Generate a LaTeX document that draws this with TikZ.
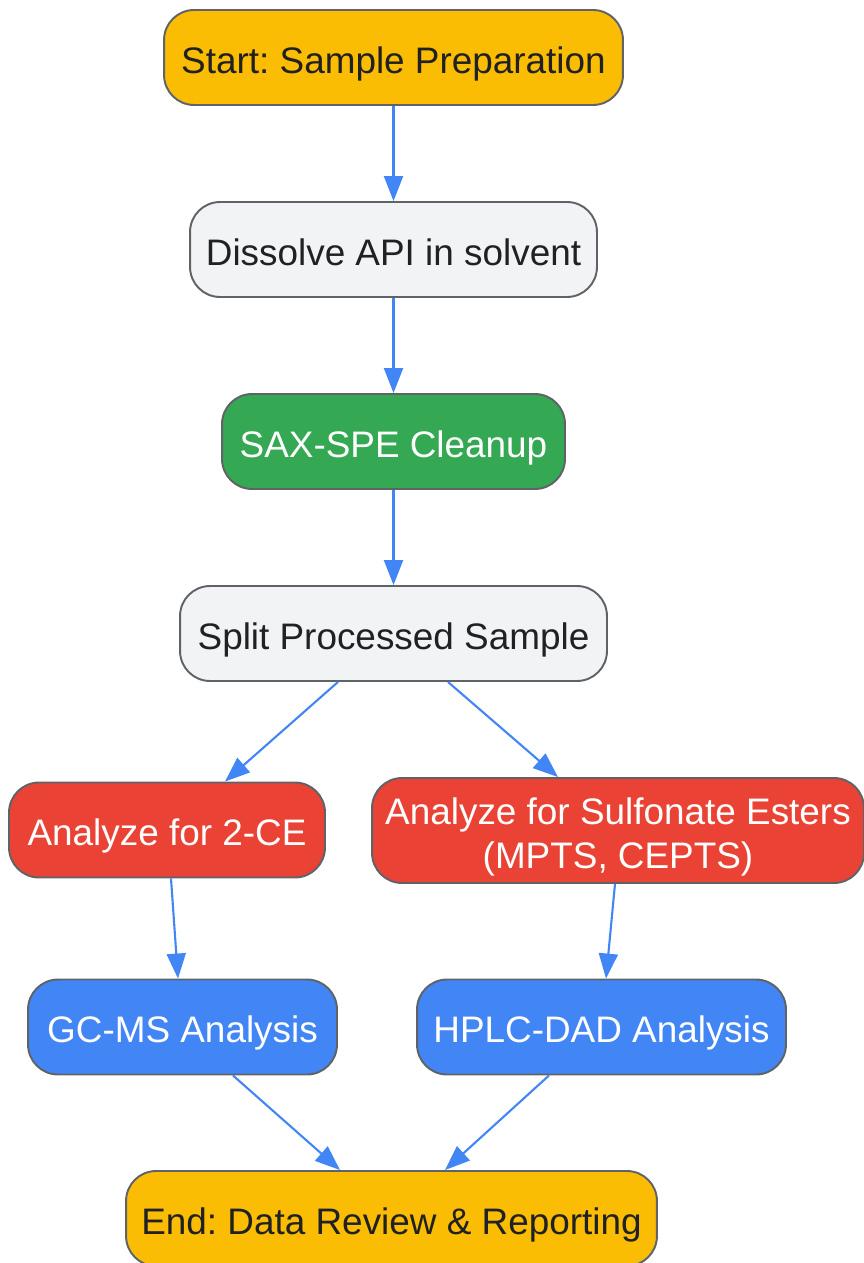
\documentclass[tikz,border=0pt]{standalone}
\usepackage{fontspec}
\setmainfont{Liberation Sans}
\usetikzlibrary{arrows.meta}
\frenchspacing
\definecolor{gyellow}{HTML}{FBBC04}
\definecolor{ggray}{HTML}{F1F3F4}
\definecolor{ggreen}{HTML}{34A853}
\definecolor{gred}{HTML}{EA4335}
\definecolor{gblue}{HTML}{4285F4}
\definecolor{gborder}{HTML}{5F6368}
\definecolor{gtext}{HTML}{202124}
\tikzset{
  box/.style={draw=gborder, line width=1.1pt, rounded corners=0.6cm,
    minimum height=1.9cm, inner sep=0pt, align=center,
    text height=18pt, text depth=0pt,
    font=\fontsize{21}{25}\selectfont, text=gtext},
  whitetext/.style={text=white},
  flow/.style={-{Triangle[length=0.5cm,width=0.38cm]}, gblue, line width=1.2pt}
}
\begin{document}
\begin{tikzpicture}[x=0.02cm,y=-0.02cm]
	\useasboundingbox (0,0) rectangle (864,1263);

	\node[box,fill=gyellow,minimum width=9.18cm] (start) at (393.5,57.5) {Start: Sample Preparation};
	\node[box,fill=ggray,minimum width=8.14cm] (dissolve) at (393.5,249.5) {Dissolve API in solvent};
	\node[box,fill=ggreen,whitetext,minimum width=6.86cm] (sax) at (393.5,441.5) {SAX-SPE Cleanup};
	\node[box,fill=ggray,minimum width=8.54cm] (split) at (393.5,633.5) {Split Processed Sample};

	\node[box,fill=gred,whitetext,minimum width=6.32cm] (ce) at (167,830) {Analyze for 2-CE};
	\node[box,fill=gred,whitetext,minimum width=9.84cm,minimum height=2.1cm,
	  text height=42.8pt] (esters) at (618,830.5) {Analyze for Sulfonate Esters\\(MPTS, CEPTS)};

	\node[box,fill=gblue,whitetext,minimum width=6.18cm] (gcms) at (182.5,1027) {GC-MS Analysis};
	\node[box,fill=gblue,whitetext,minimum width=7.38cm] (hplc) at (601.5,1027) {HPLC-DAD Analysis};

	\node[box,fill=gyellow,minimum width=10.62cm] (finish) at (391.5,1218.5) {End: Data Review \& Reporting};

	\draw[flow] (start) -- (dissolve);
	\draw[flow] (dissolve) -- (sax);
	\draw[flow] (sax) -- (split);

	\draw[flow] ([xshift=-1.11cm]split.south) -- ([xshift=1.16cm]ce.north);
	\draw[flow] ([xshift=1.09cm]split.south) -- ([xshift=-1.2cm]esters.north);

	\draw[flow] ([xshift=0.08cm]ce.south) -- ([xshift=-0.09cm]gcms.north);
	\draw[flow] ([xshift=-0.06cm]esters.south) -- ([xshift=0.09cm]hplc.north);

	\draw[flow] ([xshift=1.01cm]gcms.south) -- ([xshift=-1.03cm]finish.north);
	\draw[flow] ([xshift=-1.05cm]hplc.south) -- ([xshift=1.07cm]finish.north);
\end{tikzpicture}
\end{document}
